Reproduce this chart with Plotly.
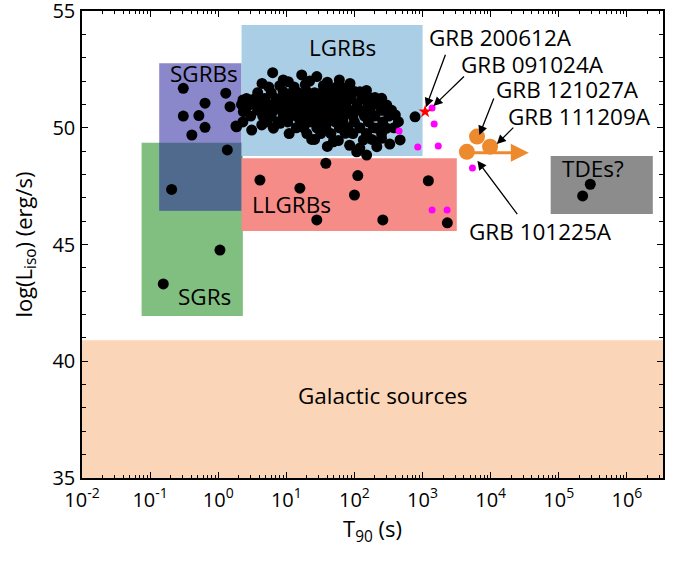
import plotly.graph_objects as go

# ---------------- data ----------------
# long GRBs (black cluster)
lgrb_t90 = [6.3, 16.8, 28, 4.4, 10.7, 44, 86, 120, 251, 298, 3.0, 2.34, 1.86, 3.1, 4.36, 6.46, 8.1,
            23.6, 49, 73, 135, 213, 108, 298, 468, 442, 213, 151, 120, 776, 1.82, 398, 263, 2.31, 2.93,
            9, 22, 40, 60,
            5.5, 8, 13, 19, 35, 55, 70, 150,
            3.8, 6, 9, 12, 15, 20, 26, 33, 42, 60, 80, 100, 150, 200,
            2.6, 3.5, 4.8, 7, 9.5, 11, 14, 18, 24, 30, 38, 50, 65, 90, 130, 180,
            2.2, 3.0, 4.2, 5.5, 7.5, 10, 13, 17, 21, 28, 36, 45, 58, 75, 110, 160, 220,
            2.5, 3.8, 5, 6.5, 8.5, 12, 16, 20, 27, 35, 48, 62, 85, 120, 170, 250, 350,
            3.0, 4.5, 6, 9, 11, 14, 19, 25, 33, 42, 55, 70, 95, 140, 200, 320,
            2.3, 5.2, 7.5, 10.5, 16, 22, 30, 40, 52, 68, 100, 160, 260,
            14, 18, 28, 38, 60, 80, 120, 190, 380,
            11, 20, 32, 45, 95, 150, 250,
            26, 58, 180, 330,
            40, 85, 250]
lgrb_logl = [52.36, 52.26, 52.19, 51.9, 51.97, 51.69, 51.9, 51.54, 51.26, 50.97, 51.19, 50.69, 50.04, 49.9,
             50.12, 49.98, 50.19, 49.5, 49.4, 49.76, 49.48, 49.19, 48.97, 49.98, 49.48, 50.26, 49.98, 48.83,
             49.13, 50.47, 50.07, 50.55, 50.76, 51.19, 51.05,
             52.05, 52.0, 51.95, 52.05,
             51.75, 51.8, 51.75, 51.85, 51.8, 51.75, 51.7, 51.6,
             51.5, 51.5, 51.55, 51.5, 51.5, 51.55, 51.5, 51.5, 51.5, 51.5, 51.5, 51.55, 51.4, 51.3,
             51.25, 51.25, 51.25, 51.25, 51.25, 51.25, 51.25, 51.25, 51.25, 51.25, 51.25, 51.25, 51.25,
             51.25, 51.25, 51.25,
             51.0, 51.0, 51.0, 51.0, 51.0, 51.0, 51.0, 51.0, 51.0, 51.0, 51.0, 51.0, 51.0, 51.0, 51.0,
             51.0, 51.0,
             50.75, 50.75, 50.75, 50.75, 50.75, 50.75, 50.75, 50.75, 50.75, 50.75, 50.75, 50.75, 50.75,
             50.75, 50.75, 50.75, 50.75,
             50.5, 50.5, 50.5, 50.5, 50.5, 50.5, 50.5, 50.5, 50.5, 50.5, 50.5, 50.5, 50.5, 50.5, 50.5, 50.5,
             50.25, 50.25, 50.25, 50.25, 50.25, 50.25, 50.25, 50.25, 50.25, 50.25, 50.25, 50.25, 50.25,
             50.0, 50.0, 50.0, 50.0, 50.0, 50.0, 50.0, 50.0, 50.0,
             49.75, 49.75, 49.75, 49.75, 49.75, 49.75, 49.75,
             49.5, 49.45, 49.5, 49.3,
             49.2, 49.25, 49.55]

# short GRBs
sgrb_t90 = [0.307, 1.29, 0.64, 1.49, 0.307, 0.52, 0.64, 0.41, 1.36, 0.207]
sgrb_logl = [51.69, 51.48, 51.05, 50.9, 50.5, 50.52, 50.02, 49.69, 49.05, 47.36]

# SGRs
sgr_t90 = [1.06, 0.156]
sgr_logl = [44.76, 43.31]

# low-luminosity GRBs
llgrb_t90 = [4.1, 15.8, 38, 112, 100, 28, 261, 1216, 2310]
llgrb_logl = [47.76, 47.41, 48.48, 47.95, 47.12, 46.05, 46.05, 47.73, 45.93]

# ultra-long GRBs (magenta)
ulgrb_t90 = [452, 1380, 1480, 850, 1700, 5400, 1380, 2290]
ulgrb_logl = [49.86, 50.85, 50.16, 49.18, 49.22, 48.28, 46.48, 46.48]

# GRB 200612A (star)
star_t90 = [1090]
star_logl = [50.69]

# GRB 101225A, 121027A, 111209A (orange)
orange_t90 = [4470, 6300, 9800]
orange_logl = [48.97, 49.62, 49.19]

# TDEs
tde_t90 = [2.9e5, 2.24e5]
tde_logl = [47.58, 47.08]

# region boxes
box_names = ["Galactic", "SGRs", "SGRBs", "overlap", "LGRBs", "LLGRBs", "TDEs"]
box_x0 = [0.01, 0.075, 0.136, 0.136, 2.2, 2.2, 7.6e4]
box_x1 = [3.4e6, 2.3, 2.2, 2.2, 1000, 3180, 2.4e6]
box_y0 = [35, 41.94, 46.45, 46.45, 48.79, 45.58, 46.31]
box_y1 = [40.9, 49.36, 52.76, 49.36, 54.4, 48.69, 48.79]
box_colors = ["#FAD5B7", "#80BF80", "#8A87CB", "#4F6A8C", "#A9CEE6", "#F58C87", "#8C8C8C"]

x_tick_vals = [1e-2, 1e-1, 1e0, 1e1, 1e2, 1e3, 1e4, 1e5, 1e6]
x_tick_text = ["10<sup>-2</sup>", "10<sup>-1</sup>", "10<sup>0</sup>", "10<sup>1</sup>", "10<sup>2</sup>",
               "10<sup>3</sup>", "10<sup>4</sup>", "10<sup>5</sup>", "10<sup>6</sup>"]
y_tick_vals = [35, 40, 45, 50, 55]

FONT = "Open Sans"

fig = go.Figure()

for nm, x0, x1, y0, y1, c in zip(box_names, box_x0, box_x1, box_y0, box_y1, box_colors):
    if nm == "Galactic":
        fig.add_shape(type="rect", xref="paper", yref="y", x0=0, x1=1, y0=y0, y1=y1,
                      fillcolor=c, line=dict(width=0), layer="below")
    else:
        fig.add_shape(type="rect", xref="x", yref="y", x0=x0, x1=x1, y0=y0, y1=y1,
                      fillcolor=c, line=dict(width=0), layer="below")

black = dict(color="black", size=11, line=dict(width=0))
fig.add_trace(go.Scatter(x=lgrb_t90, y=lgrb_logl, mode="markers", marker=black))
fig.add_trace(go.Scatter(x=sgrb_t90, y=sgrb_logl, mode="markers", marker=black))
fig.add_trace(go.Scatter(x=sgr_t90, y=sgr_logl, mode="markers", marker=black))
fig.add_trace(go.Scatter(x=llgrb_t90, y=llgrb_logl, mode="markers", marker=black))
fig.add_trace(go.Scatter(x=tde_t90, y=tde_logl, mode="markers", marker=black))
fig.add_trace(go.Scatter(x=ulgrb_t90, y=ulgrb_logl, mode="markers",
                         marker=dict(color="#FF00FF", size=7, line=dict(width=0))))
fig.add_trace(go.Scatter(x=star_t90, y=star_logl, mode="markers",
                         marker=dict(color="#FF0000", size=10, symbol="star", line=dict(width=0))))
fig.add_trace(go.Scatter(x=orange_t90, y=orange_logl, mode="markers",
                         marker=dict(color="#EE8A2E", size=16, line=dict(width=0))))

# orange arrow (log10 coords for annotations on log axis)
fig.add_annotation(x=4.56, y=48.93, ax=3.72, ay=48.93, xref="x", yref="y", axref="x", ayref="y",
                   text="", showarrow=True, arrowhead=2, arrowsize=1.2, arrowwidth=3,
                   arrowcolor="#EE8A2E", standoff=0)

# black pointer arrows: head (log10 T, logL), tail pixel offset
arrows = [(3.05, 50.88, 20, -54), (3.16, 50.93, 32, -31), (3.834, 49.69, 15, -38),
          (4.09, 49.30, 18, -18), (3.805, 48.59, 41, 55)]
for hx, hy, dx, dy in arrows:
    fig.add_annotation(x=hx, y=hy, xref="x", yref="y", ax=dx, ay=dy, text="", showarrow=True,
                       arrowhead=2, arrowsize=1.4, arrowwidth=1.3, arrowcolor="black", standoff=0)

labels = [("GRB 200612A", 0.7208, 0.9433), ("GRB 091024A", 0.7754, 0.8861),
          ("GRB 121027A", 0.8356, 0.8325), ("GRB 111209A", 0.8571, 0.7747),
          ("GRB 101225A", 0.7883, 0.5274),
          ("LGRBs", 0.4492, 0.9229), ("SGRBs", 0.2108, 0.8651), ("LLGRBs", 0.3609, 0.5846),
          ("SGRs", 0.2100, 0.3876), ("Galactic sources", 0.5181, 0.1756), ("TDEs?", 0.8795, 0.6617)]
for t, px, py in labels:
    fig.add_annotation(x=px, y=py, xref="paper", yref="paper", text=t, showarrow=False,
                       font=dict(family=FONT, size=22.5, color="black"), xanchor="center", yanchor="middle")

fig.update_xaxes(type="log", range=[-2, 6.53], tickmode="array", tickvals=x_tick_vals, ticktext=x_tick_text,
                 ticks="inside", ticklen=6, tickwidth=1.2, tickcolor="black",
                 showline=True, linecolor="black", linewidth=1.5, mirror="allticks",
                 showgrid=False, zeroline=False, ticklabeloverflow="allow", ticklabelstandoff=3,
                 minor=dict(ticks="inside", ticklen=3, tickwidth=1, tickcolor="black", dtick="D1", showgrid=False),
                 tickfont=dict(family=FONT, size=20, color="black"),
                 title=dict(text="T<sub>90</sub> (s)", font=dict(family=FONT, size=22, color="black"), standoff=10))
fig.update_yaxes(range=[35, 55], tickmode="array", tickvals=y_tick_vals,
                 ticks="inside", ticklen=6, tickwidth=1.2, tickcolor="black",
                 showline=True, linecolor="black", linewidth=1.5, mirror="allticks",
                 showgrid=False, zeroline=False, ticklabeloverflow="allow", ticklabelstandoff=1,
                 minor=dict(ticks="inside", ticklen=4, tickwidth=1, tickcolor="black", dtick=1, tick0=35,
                            showgrid=False),
                 tickfont=dict(family=FONT, size=20, color="black"),
                 title=dict(text="log(L<sub>iso</sub>) (erg/s)", font=dict(family=FONT, size=22, color="black"),
                            standoff=14))

fig.update_layout(width=685, height=561, margin=dict(l=82, r=22, t=11, b=83, autoexpand=False),
                  plot_bgcolor="white", paper_bgcolor="white", showlegend=False)

fig.write_html("out.html", config={"displayModeBar": False},
               post_script="document.body.style.margin='0';")
